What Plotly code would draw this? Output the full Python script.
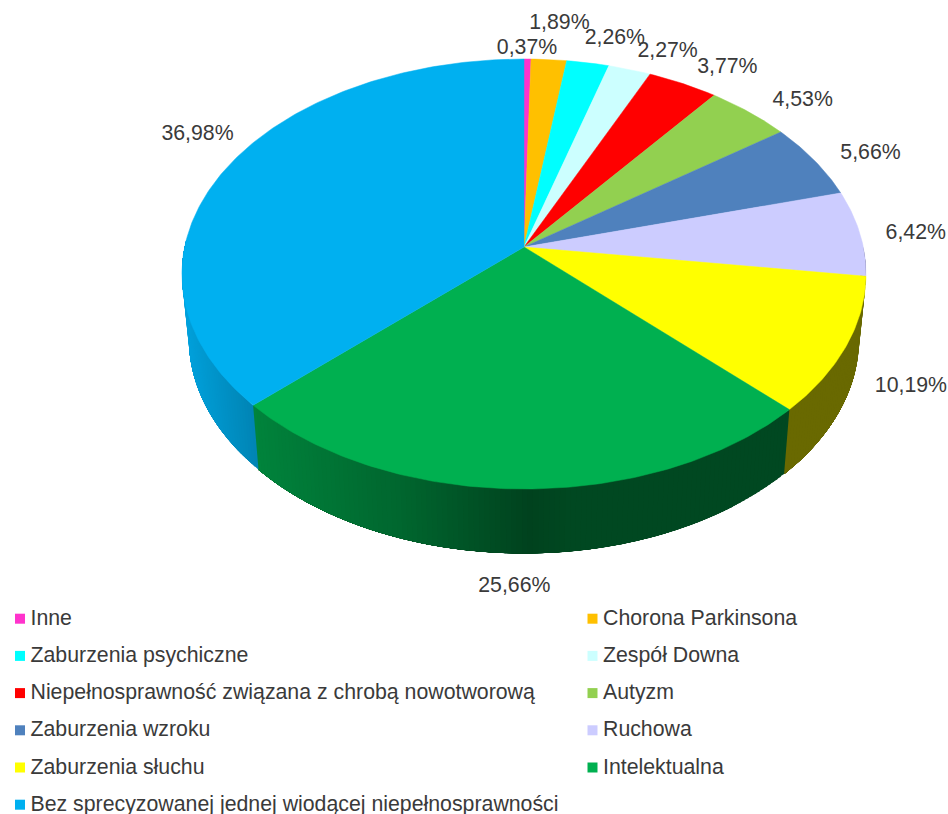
import math
import plotly.graph_objects as go

categories = ["Inne", "Chorona Parkinsona", "Zaburzenia psychiczne", "Zespół Downa",
              "Niepełnosprawność związana z chrobą nowotworową", "Autyzm", "Zaburzenia wzroku",
              "Ruchowa", "Zaburzenia słuchu", "Intelektualna",
              "Bez sprecyzowanej jednej wiodącej niepełnosprawności"]
values = [0.37, 1.89, 2.26, 2.27, 3.77, 4.53, 5.66, 6.42, 10.19, 25.66, 36.98]
colors = ["#FF33CC", "#FFC000", "#00FFFF", "#CCFFFF", "#FF0000", "#92D050",
          "#4F81BD", "#CCCCFF", "#FFFF00", "#00B050", "#00B0F0"]

# layout of the percent labels: offset in px from the rim point at the slice's mid angle
label_offsets = [(-0.5, -10), (10.5, -36), (27, -24), (38, -18), (44.5, -16), (53.5, -12),
                 (56, -7), (56, 0), (64.5, 41), (-5, 98), (-30, -32)]

CX, CY, RX, RY, K = 524.0, 247.0, 339.3, 211.6, 0.1256
DEPTH, SHRINK = 64.5, 0.98
TEXT = "#3a3a3a"
FONT = "Liberation Sans"


def rim(deg):
    t = math.radians(deg)
    u, v = math.sin(t), math.cos(t)
    w = 1 + K * v
    return CX + RX * u / w, CY - RY * v / w


def rim_low(deg):
    x, y = rim(deg)
    return CX + (x - CX) * SHRINK, y + DEPTH


def shade(x):
    pts = [(180, 0.92), (258, 0.74), (400, 0.58), (530, 0.375), (570, 0.41), (950, 0.41)]
    for (a, fa), (b, fb) in zip(pts, pts[1:]):
        if x <= b:
            return fa + (fb - fa) * (max(x, a) - a) / (b - a)
    return 0.41


def darken(col, f):
    r, g, b = int(col[1:3], 16), int(col[3:5], 16), int(col[5:7], 16)
    return f"rgb({round(r*f)},{round(g*f)},{round(b*f)})"


fig = go.Figure()
total = sum(values)
edges = [0.0]
for val in values:
    edges.append(edges[-1] + val / total * 360)

# side wall strips, only on the near half of the disc; painted so each strip runs on
# to the end of its slice and the next one covers the overlap, which hides the seams
for val, col, a, b in zip(values, colors, edges, edges[1:]):
    lo, hi = max(a, 90), min(b, 272)
    if hi <= lo:
        continue
    n = max(1, int((hi - lo) / 0.8))
    for i in range(n):
        d0 = lo + (hi - lo) * i / n
        d1 = lo + (hi - lo) * (i + 1) / n
        c = darken(col, shade((rim(d0)[0] + rim(d1)[0]) / 2))
        steps = [d0 + (hi - d0) * j / 8 for j in range(9)]
        top = [rim(d) for d in steps]
        low = [rim_low(d) for d in reversed(steps)]
        xs = [p[0] for p in top + low] + [top[0][0]]
        ys = [p[1] for p in top + low] + [top[0][1]]
        fig.add_trace(go.Scatter(x=xs, y=ys, mode="lines", fill="toself", fillcolor=c,
                                 line=dict(width=0), hoverinfo="skip", showlegend=False))

# top surface
for name, val, col, a, b in zip(categories, values, colors, edges, edges[1:]):
    n = max(2, int((b - a) / 0.75))
    arc = [rim(a + (b - a) * i / n) for i in range(n + 1)]
    xs = [CX] + [p[0] for p in arc] + [CX]
    ys = [CY] + [p[1] for p in arc] + [CY]
    fig.add_trace(go.Scatter(x=xs, y=ys, mode="lines", fill="toself", fillcolor=col,
                             line=dict(color=col, width=0.5), name=name, text=f"{val}%",
                             hoverinfo="name+text", showlegend=False))

# percent labels
lx, ly, lt = [], [], []
for val, a, b, off in zip(values, edges, edges[1:], label_offsets):
    x, y = rim((a + b) / 2)
    lx.append(x + off[0])
    ly.append(y + off[1])
    lt.append(f"{val:.2f}".replace(".", ",") + "%")
fig.add_trace(go.Scatter(x=lx, y=ly, text=lt, mode="text", textposition="middle center",
                         textfont=dict(family=FONT, size=21.3, color=TEXT),
                         hoverinfo="skip", showlegend=False))

# two-column key
for i, (name, col) in enumerate(zip(categories, colors)):
    row, column = i // 2, i % 2
    x0 = 20 if column == 0 else 592.5
    y0 = 618.7 + row * 37.2
    fig.add_trace(go.Scatter(x=[x0], y=[y0], mode="markers",
                             marker=dict(symbol="square", size=10, color=col),
                             hoverinfo="skip", showlegend=False))
    fig.add_trace(go.Scatter(x=[x0 + 10.5], y=[y0 + 0.8], text=[name], mode="text",
                             textposition="middle right",
                             textfont=dict(family=FONT, size=21.3, color=TEXT),
                             hoverinfo="skip", showlegend=False))

fig.update_layout(
    width=948, height=814, margin=dict(l=0, r=0, t=0, b=0),
    paper_bgcolor="white", plot_bgcolor="white", showlegend=False,
    xaxis=dict(range=[0, 948], visible=False, fixedrange=True),
    yaxis=dict(range=[814, 0], visible=False, fixedrange=True),
)
fig.write_html("out.html", config={"displayModeBar": False},
               post_script="document.body.style.margin='0';document.body.style.overflow='hidden';")
